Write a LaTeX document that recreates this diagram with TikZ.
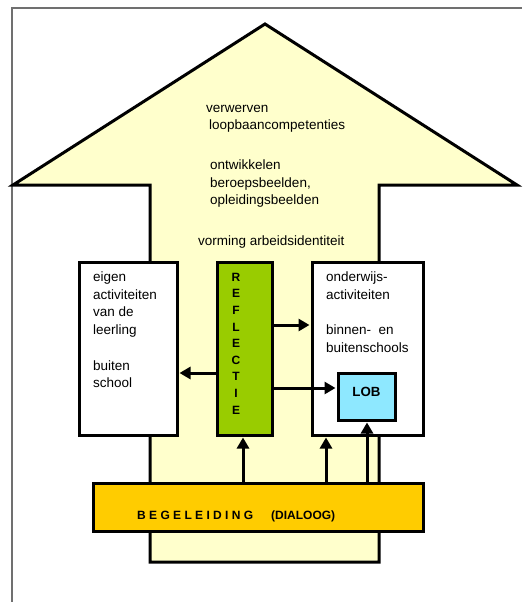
\documentclass[tikz,border=0pt]{standalone}
\usepackage{fontspec}
\setmainfont{Liberation Sans}
\usetikzlibrary{arrows.meta}
\definecolor{arrowfill}{HTML}{FFFFCC}
\definecolor{reflgreen}{HTML}{99CC00}
\definecolor{lobblue}{HTML}{8EE8FF}
\definecolor{begyellow}{HTML}{FFCC00}
\definecolor{framegray}{HTML}{707070}
\begin{document}
\begin{tikzpicture}[x=1pt,y=-1pt,
  box/.style={draw=black,line width=3pt,inner sep=0pt},
  conn/.style={line width=3pt,shorten >=1pt,-{Triangle[length=11pt,width=12pt]}},
  txt/.style={font=\fontsize{13.5}{17.7}\selectfont,align=left,inner sep=0pt,anchor=north west,execute at begin node=\strut}]
\useasboundingbox (0,0) rectangle (522,602);
% frame
\draw[framegray,line width=1.2pt] (12,602) -- (12,8) -- (522,8);
% big arrow
\draw[line width=3pt,fill=arrowfill,line join=miter,miter limit=4]
  (150,562) -- (150,185) -- (13,185) -- (265,24) -- (517,185) -- (379,185) -- (379,562) -- cycle;
% texts in arrow head
\node[txt] (t1) at (206,104.6) {verwerven\\\hspace*{3pt}loopbaancompetenties};
\node[txt] (t2) at (210,159.6) {ontwikkelen\\beroepsbeelden,\\opleidingsbeelden};
\node[txt] (t3) at (198,232.6) {vorming arbeidsidentiteit};
% boxes
\node[box,fill=white,minimum width=98pt,minimum height=173pt] (eigen) at (128,348.5) {};
\node[box,fill=reflgreen,minimum width=55pt,minimum height=173pt] (refl) at (244.5,348.5) {};
\node[box,fill=white,minimum width=111pt,minimum height=173pt] (onderw) at (367.5,348.5) {};
\node[box,fill=lobblue,minimum width=57pt,minimum height=47pt,
  font=\bfseries\fontsize{13.3}{16}\selectfont,text height=9.5pt,text depth=10pt] (lob) at (366.5,396.5) {LOB};
\node[box,fill=begyellow,minimum width=330pt,minimum height=48pt] (beg) at (258,507) {};
% box texts
\node[txt] (eigentxt) at (93,271.6) {eigen\\activiteiten\\van de\\leerling\\[17.7pt]buiten\\school};
\node[txt] (ondtxt) at (326,271.6) {onderwijs-\\activiteiten\\[17.7pt]binnen-\ \ en\\buitenschools};
\node[inner sep=0pt,align=center,font=\bfseries\fontsize{12}{16.6}\selectfont] (refltxt) at (236,343.5)
  {R\\E\\F\\L\\E\\C\\T\\I\\E};
\node[anchor=base west,inner sep=0pt,font=\bfseries\fontsize{12}{14}\selectfont] (begtxt) at (137,519)
  {B E G E L E I D I N G\hspace{18pt}(DIALOOG)};
% connectors
\draw[conn] ([yshift=23.5pt]refl.east) -- ([yshift=23.5pt]onderw.west);
\draw[conn] ([yshift=-24.5pt]refl.west) -- ([yshift=-24.5pt]eigen.east);
\draw[conn] ([yshift=-39.5pt]refl.east) -- ([yshift=8.5pt]lob.west);
\draw[conn] ([xshift=-15pt]beg.north) -- ([xshift=-1.5pt]refl.south);
\draw[conn] ([xshift=68pt]beg.north) -- ([xshift=-41.5pt]onderw.south);
\draw[conn] ([xshift=109pt]beg.north) -- ([xshift=0.5pt]lob.south);
\end{tikzpicture}
\end{document}
